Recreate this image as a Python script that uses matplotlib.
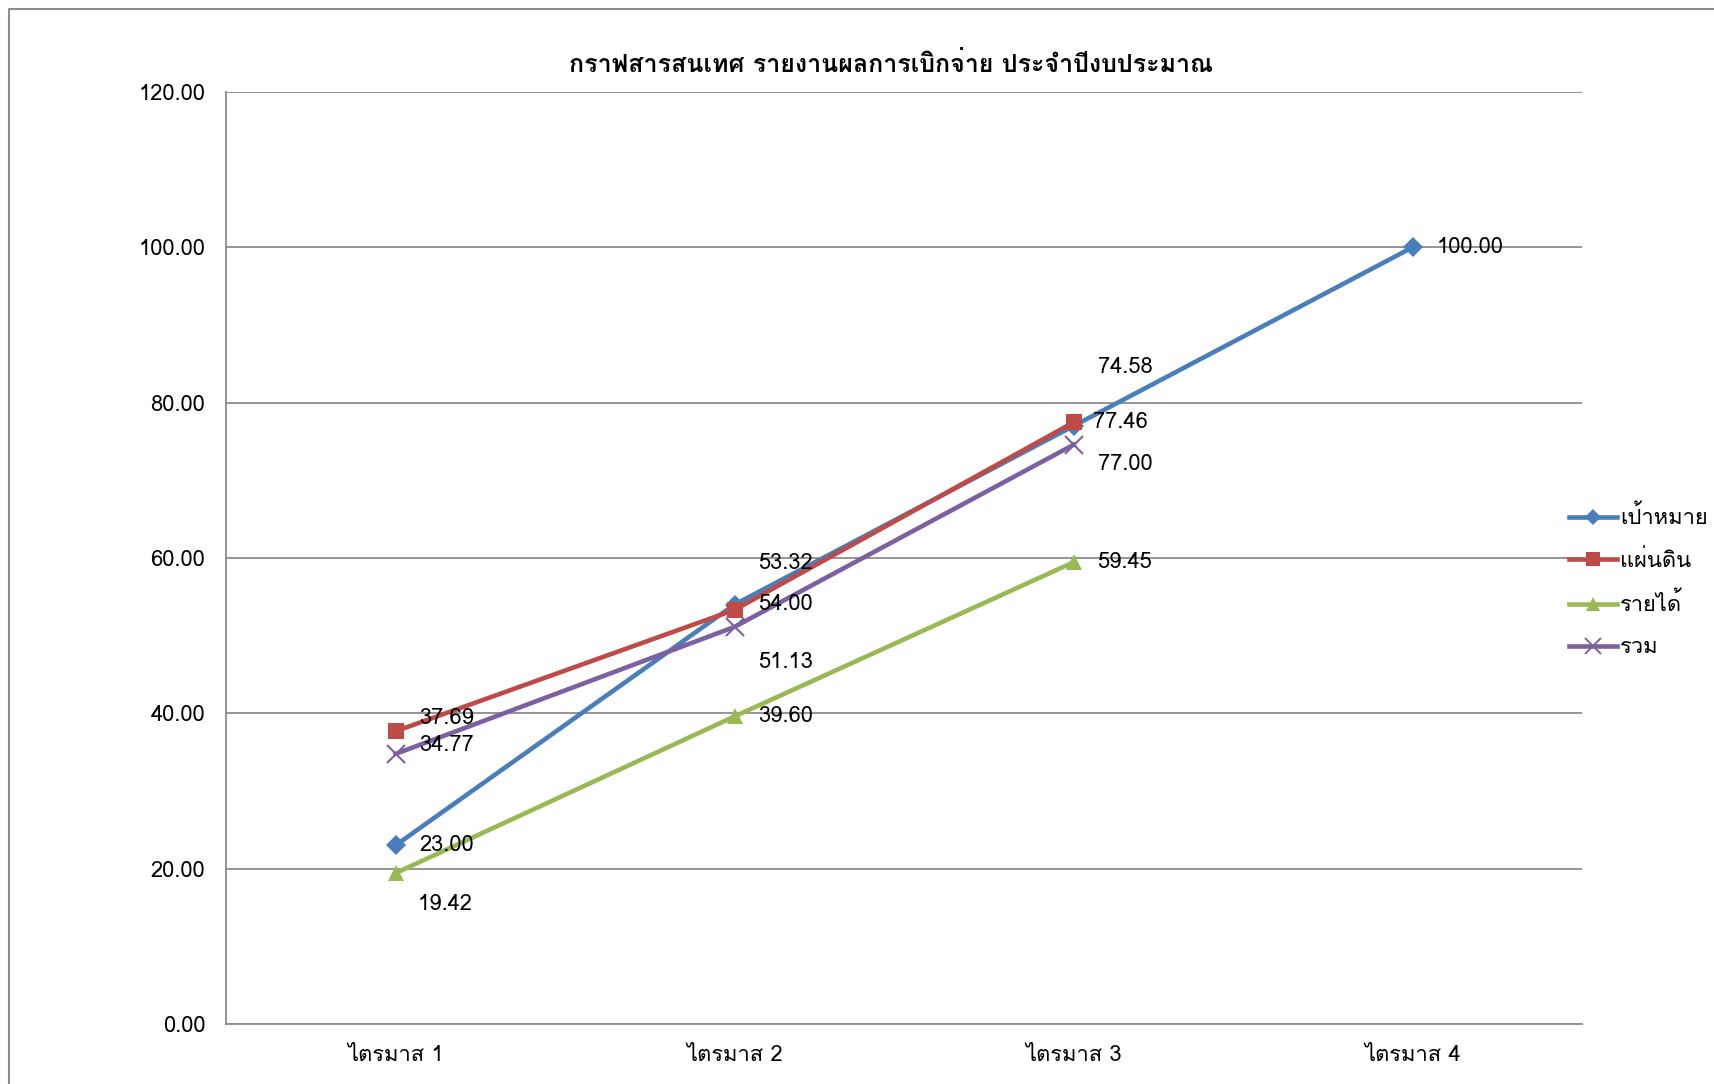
import matplotlib
matplotlib.use("Agg")
import matplotlib.pyplot as plt
from matplotlib import font_manager
from matplotlib.ft2font import FT2Font
from matplotlib.lines import Line2D

# Chart data
quarters = ["ไตรมาส 1", "ไตรมาส 2", "ไตรมาส 3", "ไตรมาส 4"]
target = [23.00, 54.00, 77.00, 100.00]      # เป้าหมาย
land = [37.69, 53.32, 77.46]                # แผ่นดิน
income = [19.42, 39.60, 59.45]              # รายได้
total = [34.77, 51.13, 74.58]               # รวม
series_names = ["เป้าหมาย", "แผ่นดิน", "รายได้", "รวม"]
title = "กราฟสารสนเทศ รายงานผลการเบิกจ่าย ประจำปีงบประมาณ"
y_ticks = [0, 20, 40, 60, 80, 100, 120]


def thai_family():
    """Find an installed family that has Thai glyphs."""
    for f in font_manager.fontManager.ttflist:
        try:
            if 0x0E01 in FT2Font(f.fname).get_charmap():
                return f.name
        except Exception:
            continue
    return None


fam = thai_family()
families = ([fam] if fam else []) + ["DejaVu Sans"]
plt.rcParams["font.family"] = families

colors = ["#4A7EBB", "#BE4B48", "#98B954", "#7D60A0"]
markers = ["D", "s", "^", "x"]
msizes = [10, 12, 12, 13]
fs = 15.8

fig = plt.figure(figsize=(17.14, 10.84), dpi=100)
ax = fig.add_axes([0.1319, 0.0554, 0.7911, 0.8597])

all_series = [target, land, income, total]
for vals, name, c, m, ms in zip(all_series, series_names, colors, markers, msizes):
    ax.plot(range(len(vals)), vals, color=c, lw=3.3, marker=m, ms=ms,
            mew=1.5 if m == "x" else 0, mec=c, label=name, zorder=3)

# label offsets (pixels) per series / point, as placed in the original
offsets = [
    [(24, 0), (24, 0), (24, -39), (24, 0)],
    [(24, 13), (24, 46), (19, 0)],
    [(22, -31), (24, 0), (24, 0)],
    [(24, 8), (24, -36), (24, 77)],
]
for vals, offs in zip(all_series, offsets):
    for i, (v, (dx, dy)) in enumerate(zip(vals, offs)):
        ax.annotate(f"{v:.2f}", xy=(i, v), xytext=(dx, dy),
                    textcoords="offset pixels", ha="left", va="center",
                    fontsize=fs, zorder=4)

ax.set_xlim(-0.5, 3.5)
ax.set_ylim(0, 120)
ax.set_yticks(y_ticks)
ax.set_yticklabels([f"{t:.2f}" for t in y_ticks], fontsize=fs)
ax.set_xticks(range(len(quarters)))
ax.set_xticklabels(quarters, fontsize=fs)
ax.tick_params(axis="both", length=0)
ax.tick_params(axis="y", pad=15)
ax.tick_params(axis="x", pad=15)
ax.grid(axis="y", color="#8C8C8C", lw=1.3)
ax.set_axisbelow(True)
for s in ["top", "right"]:
    ax.spines[s].set_visible(False)
for s in ["left", "bottom"]:
    ax.spines[s].set_color("#8C8C8C")
    ax.spines[s].set_linewidth(1.3)

fig.text(891 / 1714, 1 - 65 / 1084, title, ha="center", va="center",
         fontsize=18, fontweight="bold")

# legend
handles = [Line2D([0], [0], color=c, lw=3.3, marker=m, ms=ms * 0.85,
                  mew=1.4 if m == "x" else 0, mec=c)
           for c, m, ms in zip(colors, markers, msizes)]
fig.legend(handles, series_names, loc="center left",
           bbox_to_anchor=(1560 / 1714, 1 - 582 / 1084), frameon=False,
           fontsize=fs, handlelength=2.2, handletextpad=0.15,
           labelspacing=0.95, borderaxespad=0)

# outer chart border (only left and top visible in the original)
fig.add_artist(Line2D([9 / 1714, 9 / 1714, 1.0], [0.0, 1 - 9 / 1084, 1 - 9 / 1084],
                      transform=fig.transFigure, color="#8C8C8C", lw=1.5))

fig.savefig("out.png", dpi=100)
